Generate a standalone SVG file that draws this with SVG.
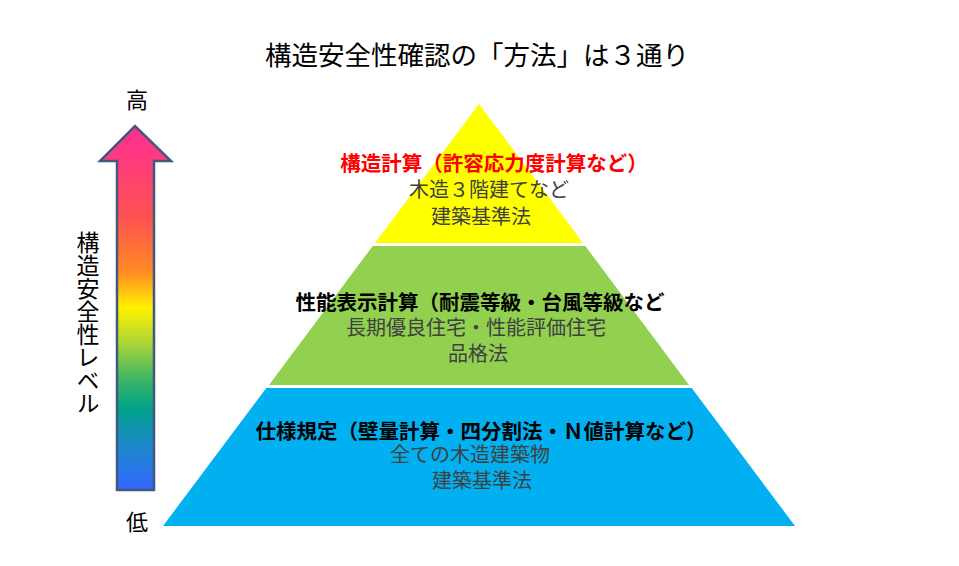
<svg xmlns="http://www.w3.org/2000/svg" width="959" height="566" viewBox="0 0 959 566">
<style>
text{font-family:"Noto Sans CJK JP","Noto Sans CJK SC",sans-serif;}
.t{font-size:26.5px;fill:#000;text-anchor:middle;}
.lv{font-size:22px;fill:#000;text-anchor:middle;}
.h{font-size:20.5px;font-weight:bold;text-anchor:middle;}
.s{font-size:20px;fill:#404040;text-anchor:middle;}
</style>
<defs>
<linearGradient id="rg" x1="0" y1="126" x2="0" y2="490" gradientUnits="userSpaceOnUse">
<stop offset="0" stop-color="#FF2D96"/>
<stop offset="0.25" stop-color="#FF5252"/>
<stop offset="0.4" stop-color="#FF8A22"/>
<stop offset="0.5" stop-color="#FFF200"/>
<stop offset="0.6" stop-color="#A8D43A"/>
<stop offset="0.7" stop-color="#3AB466"/>
<stop offset="0.78" stop-color="#00A08C"/>
<stop offset="0.88" stop-color="#1E88CC"/>
<stop offset="1" stop-color="#3366FF"/>
</linearGradient>
</defs>
<rect width="959" height="566" fill="#fff"/>
<g id="title"><text class="t" x="477" y="65">構造安全性確認の「方法」は３通り</text></g>
<g id="arrow">
<path d="M117,490 L117,161 L100,161 L135,126 L171,161 L154,161 L154,490 Z" fill="url(#rg)" stroke="#41597D" stroke-width="2.5" stroke-linejoin="miter"/>
<text class="lv" x="137" y="108">高</text>
<text class="lv" x="137" y="530">低</text>
<text x="88" y="231" style="font-size:23px;writing-mode:vertical-rl;fill:#000" text-anchor="start">構造安全性レベル</text>
</g>
<g id="level-top">
<polygon points="479,104 583,243 375,243" fill="#FFFF00"/>
<text class="h" x="494" y="171" fill="#FF0000">構造計算（許容応力度計算など）</text>
<text class="s" x="489" y="197">木造３階建てなど</text>
<text class="s" x="481" y="224">建築基準法</text>
</g>
<g id="level-middle">
<polygon points="372.7,246 585.3,246 689,385 269,385" fill="#92D050"/>
<text class="h" x="480" y="310" fill="#000">性能表示計算（耐震等級・台風等級など</text>
<text class="s" x="476" y="335">長期優良住宅・性能評価住宅</text>
<text class="s" x="478" y="361">品格法</text>
</g>
<g id="level-bottom">
<polygon points="266.3,388 691.7,388 795,526 163,526" fill="#00B0F0"/>
<text class="h" x="481" y="439" fill="#000">仕様規定（壁量計算・四分割法・Ｎ値計算など）</text>
<text class="s" x="470" y="462">全ての木造建築物</text>
<text class="s" x="482" y="488">建築基準法</text>
</g>
<g id="connectors"></g>
</svg>
